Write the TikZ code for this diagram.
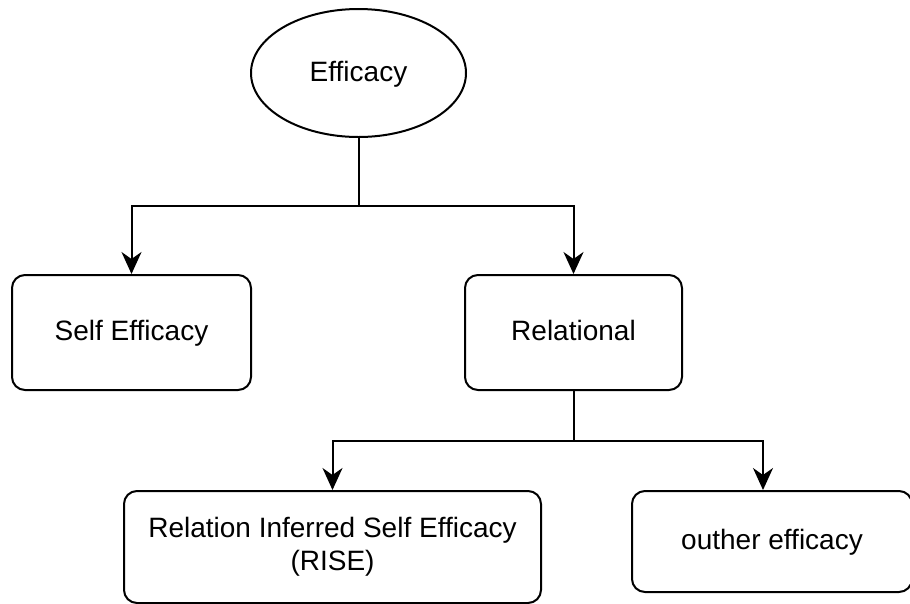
\documentclass[tikz,border=0pt]{standalone}
\usepackage{fontspec}
\setmainfont{Liberation Sans}[Ligatures=CommonOff]
\usetikzlibrary{shapes.geometric,arrows.meta}
\begin{document}
\begin{tikzpicture}[x=1pt,y=-1pt,line width=2pt,
  lbl/.style={font=\fontsize{28pt}{33pt}\selectfont, align=center, inner sep=0pt},
  one/.style={text height=21pt, text depth=4.6pt},
  box/.style={lbl, draw, rounded corners=13pt},
  oval/.style={lbl, draw, ellipse},
  conn/.style={-{Stealth[length=22pt,width=20pt,inset=7pt]}, line width=2pt}]
\useasboundingbox (0,0) rectangle (910,603);
\node[oval, one, minimum width=215pt, minimum height=128pt] (eff) at (358.5,73) {Efficacy};
\node[box, one, minimum width=239pt, minimum height=115pt] (self) at (131.5,332.5) {Self Efficacy};
\node[box, one, minimum width=217pt, minimum height=115pt] (rel) at (573.5,332.5) {Relational};
\node[box, minimum width=417pt, minimum height=112pt] (rise) at (332.5,547) {Relation Inferred Self Efficacy\\(RISE)};
\node[box, one, minimum width=280pt, minimum height=101pt] (out) at (772,541.5) {outher efficacy};
\draw[conn] (eff.south) -- (eff.south |- 0,206) -| (self.north);
\draw[conn] (eff.south) -- (eff.south |- 0,206) -| (rel.north);
\draw[conn] (rel.south) -- (rel.south |- 0,441) -| (rise.north);
\draw[conn] (rel.south) -- (rel.south |- 0,441) -| ([xshift=-9pt]out.north);
\end{tikzpicture}
\end{document}
